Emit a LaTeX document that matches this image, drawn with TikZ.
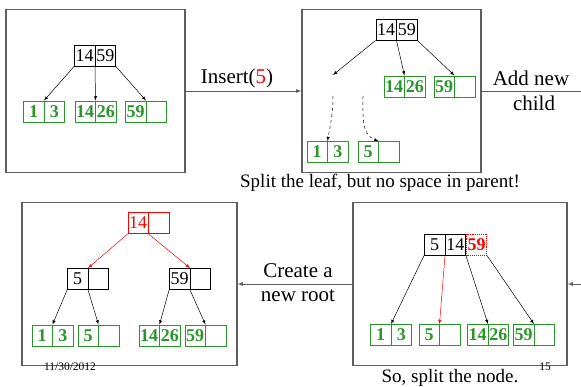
\documentclass[tikz,border=0pt]{standalone}
\usepackage{fontspec}
\setmainfont{Liberation Serif}
\usepackage{tikz}
\usetikzlibrary{arrows,positioning,shapes.multipart}

\definecolor{leafgreen}{RGB}{40,150,40}
\definecolor{framegray}{RGB}{95,95,95}
% one key slot of a b-tree node
\newcommand{\slot}[1]{\makebox[20pt]{\rule[-4.5pt]{0pt}{21pt}#1}}

\begin{document}
\begin{tikzpicture}[x=1pt,y=-1pt,
		panel/.style={draw=framegray,line width=1.2pt,inner sep=0pt,minimum height=163pt},
		keys/.style={rectangle split,rectangle split horizontal,rectangle split parts=2,draw,line width=0.9pt,inner sep=0pt,font=\fontsize{18}{20}\selectfont},
		leaf/.style={keys,draw=leafgreen,text=leafgreen,font=\fontsize{18}{20}\selectfont\bfseries},
		link/.style={->,>=latex,line width=0.5pt},
		step link/.style={->,>=latex,draw=framegray,line width=0.8pt},
		caption/.style={font=\fontsize{19}{22}\selectfont},
		action/.style={font=\fontsize{21}{24}\selectfont},
		stamp/.style={font=\fontsize{11.5}{13}\selectfont}]
		\useasboundingbox (0,0) rectangle (581,387);

		% the four steps
		\node[panel,minimum width=179pt] (p1) at (95.5,91) {};
		\node[panel,minimum width=179pt] (p2) at (391.5,91) {};
		\node[panel,minimum width=215pt] (p3) at (129.5,284) {};
		\node[panel,minimum width=214pt] (p4) at (460,284) {};
		\coordinate (outR) at (581,91);
		\coordinate (inR) at (581,284);

		\draw [step link] (p1.east) to (p2.west);
		\draw [draw=framegray,line width=0.8pt] (p2.east) to (outR);
		\draw [step link] (inR) to (p4.east);
		\draw [step link] (p4.west) to (p3.east);

		\node[action] (insert) at (237,78) {Insert(\textcolor{red}{5})};
		\node[action] (addnew) at (531,78) {Add new};
		\node[action] (child) at (534,103) {child};
		\node[action] (create) at (298,271) {Create a};
		\node[action] (newroot) at (298,296) {new root};
		\node[caption] (splitleaf) at (380,183) {Split the leaf, but no space in parent!};
		\node[caption] (splitnode) at (450,378) {So, split the node.};
		\node[stamp] (date) at (70,367) {11/30/2012};
		\node[stamp] (page) at (545,367) {15};

		% step 1
		\node[keys] (r1) at (95,55.5) {\slot{14}\nodepart{two}\slot{59}};
		\node[leaf] (a1) at (44,111.5) {\slot{1}\nodepart{two}\slot{3}};
		\node[leaf] (b1) at (95.5,111.5) {\slot{14}\nodepart{two}\slot{26}};
		\node[leaf] (c1) at (146,111.5) {\slot{59}\nodepart{two}\slot{}};

		\draw [link] (r1.south west) to (a1.one split north);
		\draw [link] (r1.one split south) to (b1.one split north);
		\draw [link] (r1.south east) to (c1.one split north);

		% step 2
		\node[keys] (r2) at (396.5,29.5) {\slot{14}\nodepart{two}\slot{59}};
		\node[leaf] (b2) at (404.5,86.5) {\slot{14}\nodepart{two}\slot{26}};
		\node[leaf] (c2) at (454.5,86.5) {\slot{59}\nodepart{two}\slot{}};
		\node[leaf] (a2) at (327.5,152) {\slot{1}\nodepart{two}\slot{3}};
		\node[leaf] (d2) at (378.5,152) {\slot{5}\nodepart{two}\slot{}};
		\coordinate (hole) at (333,75);
		\coordinate (fromA) at (333,96);
		\coordinate (fromD) at (363,96);

		\draw [link] (r2.south west) to (hole);
		\draw [link] (r2.one split south) to (b2.one split north);
		\draw [link] (r2.south east) to (c2.one split north);
		\draw [link,dashed] (fromA) to[out=-90,in=80] (a2.one split north);
		\draw [link,dashed] (fromD) to[out=-90,in=160] (d2.one split north);

		% step 3
		\node[keys] (r4) at (445,244.5) {\slot{5}\nodepart{two}\slot{14}};
		\node[draw=red,densely dotted,line width=0.9pt,inner sep=0pt,text=red,font=\fontsize{18}{20}\selectfont\bfseries] (x4) at (476.5,244.5) {\slot{59}};
		\node[leaf] (a4) at (391,335) {\slot{1}\nodepart{two}\slot{3}};
		\node[leaf] (d4) at (439.5,335) {\slot{5}\nodepart{two}\slot{}};
		\node[leaf] (b4) at (488,335) {\slot{14}\nodepart{two}\slot{26}};
		\node[leaf] (c4) at (534,335) {\slot{59}\nodepart{two}\slot{}};

		\draw [link] (r4.south west) to (a4.one split north);
		\draw [link,red] (r4.one split south) to (d4.one split north);
		\draw [link] (r4.south east) to (b4.one split north);
		\draw [link] (x4.south east) to (c4.one split north);

		% step 4
		\node[keys,draw=red,text=red] (r3) at (148.5,223) {\slot{14}\nodepart{two}\slot{}};
		\node[keys] (m3) at (88,279) {\slot{5}\nodepart{two}\slot{}};
		\node[keys] (n3) at (190,279) {\slot{59}\nodepart{two}\slot{}};
		\node[leaf] (a3) at (52.5,335.5) {\slot{1}\nodepart{two}\slot{3}};
		\node[leaf] (d3) at (98.5,335.5) {\slot{5}\nodepart{two}\slot{}};
		\node[leaf] (b3) at (159.5,335.5) {\slot{14}\nodepart{two}\slot{26}};
		\node[leaf] (c3) at (205.5,335.5) {\slot{59}\nodepart{two}\slot{}};

		\draw [link,red] (r3.south west) to (m3.one split north);
		\draw [link,red] (r3.one split south) to (n3.one split north);
		\draw [link] (m3.south west) to (a3.one split north);
		\draw [link] (m3.one split south) to (d3.one split north);
		\draw [link] (n3.south west) to (b3.one split north);
		\draw [link] (n3.one split south) to (c3.one split north);
\end{tikzpicture}
\end{document}
